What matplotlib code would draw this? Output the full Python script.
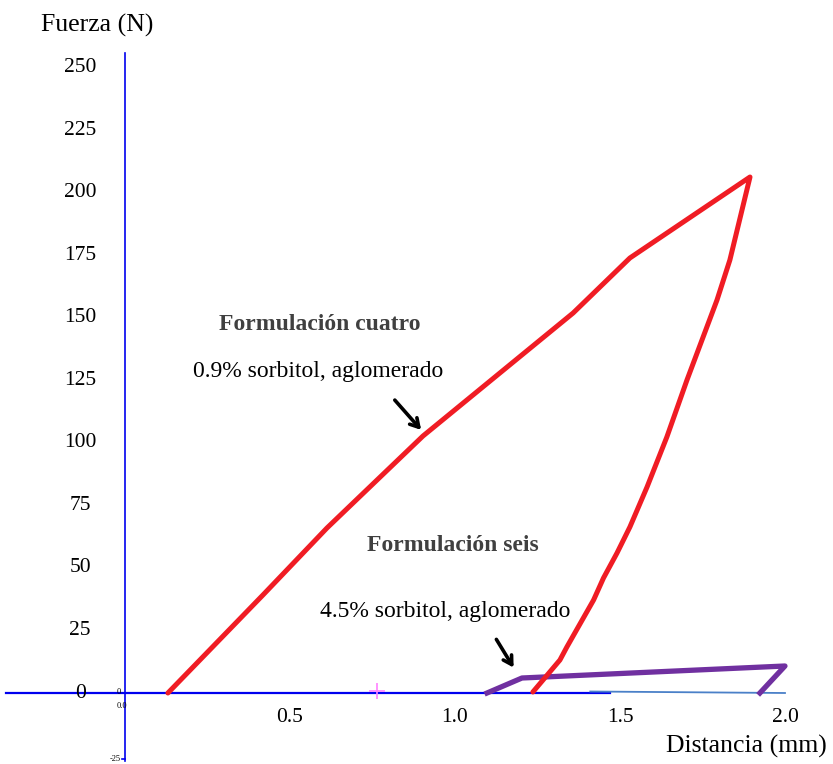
import numpy as np
import matplotlib.pyplot as plt

plt.rcParams['font.family'] = ['Liberation Serif', 'DejaVu Serif']

# formulación cuatro (0.9% sorbitol) - carga y descarga
dist_cuatro = [0.130, 0.227, 0.418, 0.612, 0.903, 1.136, 1.358, 1.530, 1.894,
               1.833, 1.794, 1.703, 1.642, 1.582, 1.530, 1.491, 1.450, 1.420, 1.339, 1.318, 1.236]
fuerza_cuatro = [0.0, 13.2, 39.2, 66.0, 102.8, 128.0, 152.0, 174.0, 206.4,
                 173.2, 157.2, 125.2, 102.4, 82.4, 66.4, 56.0, 46.0, 37.2, 18.4, 13.2, 0.4]

# formulación seis (4.5% sorbitol)
dist_seis = [1.097, 1.203, 2.000, 1.924]
fuerza_seis = [0.0, 6.0, 10.8, 0.0]

# linea base de la maquina
dist_base = [-0.36, 1.47]
fuerza_base = [0.0, 0.0]
dist_base2 = [1.41, 2.0]
fuerza_base2 = [0.6, 0.0]

yticks = [0, 25, 50, 75, 100, 125, 150, 175, 200, 225, 250]
xticks = [0.5, 1.0, 1.5, 2.0]

fig = plt.figure(figsize=(8.33, 7.64), dpi=100)
ax = fig.add_axes([0, 0, 1, 1])
ax.set_xlim(-0.3788, 2.1455)
ax.set_ylim(-28.4, 277.2)
ax.axis('off')

# ejes
ax.plot(dist_base, fuerza_base, color='#0000ee', lw=1.6, zorder=2)
ax.plot(dist_base2, fuerza_base2, color='#4a80c8', lw=1.3, zorder=2)
ax.plot([0, 0], [-27, 256], color='#0000ee', lw=1.2, zorder=2)
ax.plot([-0.01, 0], [-26.5, -26.5], color='#0000ee', lw=1.2)

ax.plot(dist_cuatro, fuerza_cuatro, color='#f01c24', lw=3.6, solid_capstyle='round',
        solid_joinstyle='round', zorder=4)
ax.plot(dist_seis, fuerza_seis, color='#7030a0', lw=3.8, solid_joinstyle='round', zorder=3)
ax.plot([0.764], [1.0], marker='+', color='#ff80ff', ms=12, mew=1.2, zorder=5)

for v in yticks:
    ax.text(-0.136, v, str(v), ha='center', va='center', fontsize=15.5)
for v in xticks:
    ax.text(v, -10, '%.1f' % v, ha='center', va='center', fontsize=15.5)

ax.text(-0.02, 0.6, '0', ha='center', va='center', fontsize=6)
ax.text(-0.01, -5.2, '0.0', ha='center', va='center', fontsize=6)
ax.text(-0.03, -26.5, '-25', ha='center', va='center', fontsize=6)

ax.text(-0.085, 267.2, 'Fuerza (N)', ha='center', va='center', fontsize=18.5)
ax.text(1.882, -21.2, 'Distancia (mm)', ha='center', va='center', fontsize=18.5)

ax.text(0.591, 147.4, 'Formulación cuatro', ha='center', va='center', fontsize=17,
        fontweight='bold', color='#404040')
ax.text(0.585, 128.6, '0.9% sorbitol, aglomerado', ha='center', va='center', fontsize=17)
ax.text(0.994, 59.0, 'Formulación seis', ha='center', va='center', fontsize=17,
        fontweight='bold', color='#404040')
ax.text(0.970, 32.6, '4.5% sorbitol, aglomerado', ha='center', va='center', fontsize=17)

arrow = dict(arrowstyle='->, head_length=0.6, head_width=0.35', color='black', lw=2.6)
ax.annotate('', xy=(0.903, 104.4), xytext=(0.812, 118.0), arrowprops=arrow)
ax.annotate('', xy=(1.182, 9.2), xytext=(1.121, 22.4), arrowprops=arrow)

fig.savefig('out.png', dpi=100)
